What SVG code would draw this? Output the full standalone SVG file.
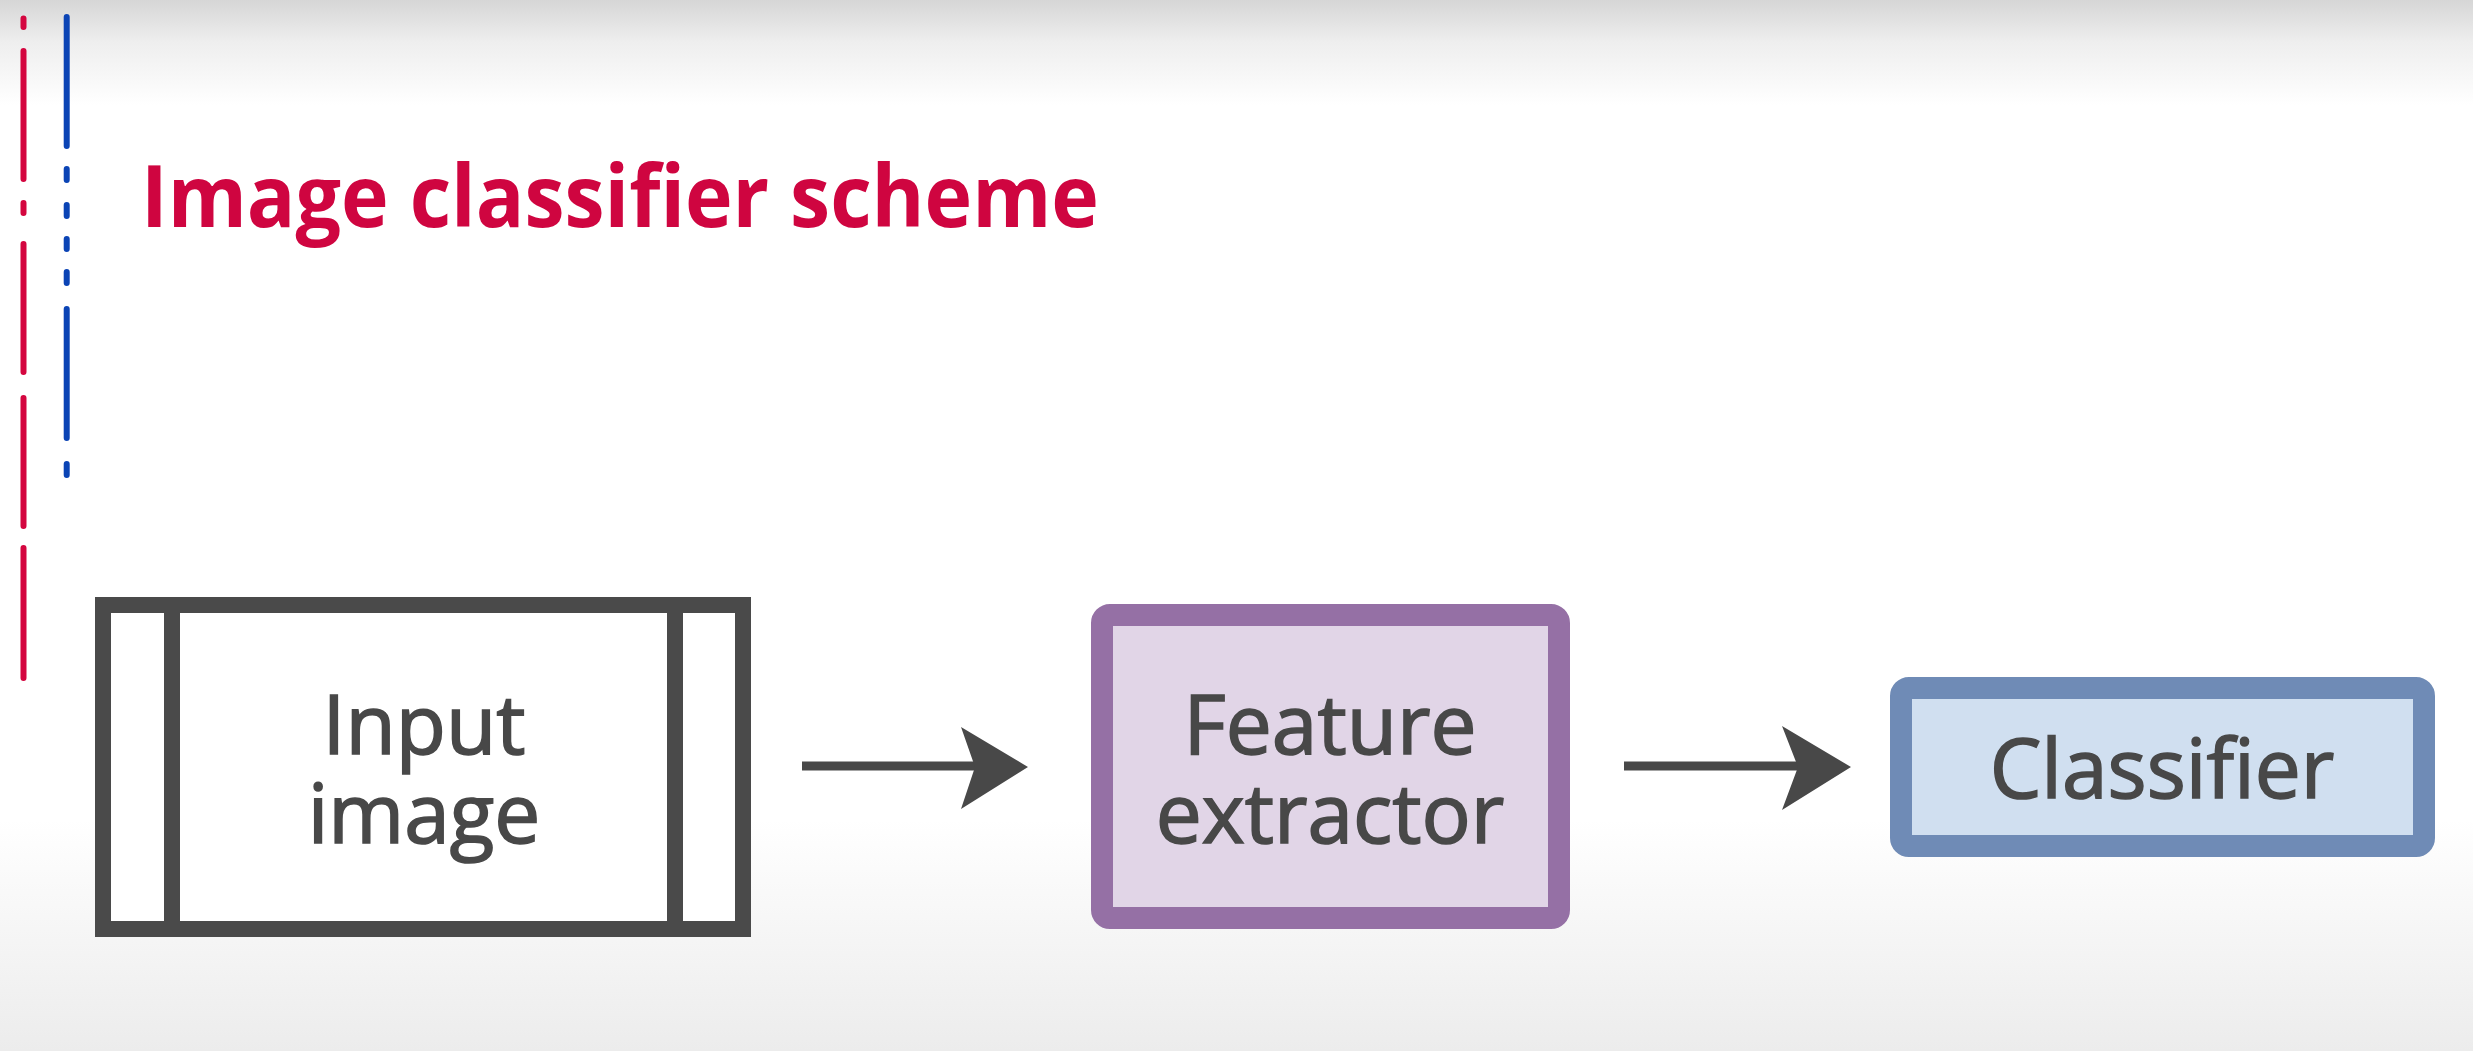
<svg xmlns="http://www.w3.org/2000/svg" width="2473" height="1051" viewBox="0 0 2473 1051">
<defs>
<linearGradient id="bg" x1="0" y1="0" x2="0" y2="1">
<stop offset="0" stop-color="#d6d6d6"/>
<stop offset="0.04" stop-color="#eeeeee"/>
<stop offset="0.1" stop-color="#ffffff"/>
<stop offset="0.78" stop-color="#ffffff"/>
<stop offset="1" stop-color="#ececec"/>
</linearGradient>
<style>
.lbl{font-family:"Open Sans","Liberation Sans",sans-serif;font-size:82px;fill:#484848;stroke:#484848;stroke-width:1.6;text-anchor:middle}
.title{font-family:"Open Sans","Liberation Sans",sans-serif;font-weight:bold;font-size:86px;fill:#cf0540}
.deco{fill:none;stroke-width:6;stroke-linecap:round}
.shaft{stroke:#484848;stroke-width:9;fill:none}
.head{fill:#484848}
</style>
</defs>
<rect x="0" y="0" width="2473" height="1051" fill="url(#bg)"/>
<g id="decoration">
<path class="deco" stroke="#d4063f" d="M23.5 18.6V27 M23.5 51V179 M23.5 203V213 M23.5 244V372 M23.5 398V526 M23.5 548V678"/>
<path class="deco" stroke="#0b44b5" d="M66.7 17V146 M66.7 169V180 M66.7 205V216 M66.7 239V249 M66.7 272V283 M66.7 309V438 M66.7 464V475"/>
</g>
<g id="title">
<text class="title" x="141" y="227" textLength="958" lengthAdjust="spacingAndGlyphs">Image classifier scheme</text>
</g>
<g id="input-image">
<rect x="103" y="605" width="640" height="324" fill="#ffffff" stroke="#4a4a4a" stroke-width="16"/>
<line x1="172" y1="605" x2="172" y2="929" stroke="#4a4a4a" stroke-width="16"/>
<line x1="675" y1="605" x2="675" y2="929" stroke="#4a4a4a" stroke-width="16"/>
<text class="lbl" x="424" y="754">Input</text>
<text class="lbl" x="424" y="843">image</text>
</g>
<g id="feature-extractor">
<rect x="1102" y="615" width="457" height="303" rx="8" fill="#e1d5e7" stroke="#9570a5" stroke-width="22"/>
<text class="lbl" x="1330" y="754">Feature</text>
<text class="lbl" x="1330" y="843">extractor</text>
</g>
<g id="classifier">
<rect x="1901" y="688" width="523" height="158" rx="8" fill="#d0dff0" stroke="#6f8bb6" stroke-width="22"/>
<text class="lbl" x="2162" y="798">Classifier</text>
</g>
<g id="connectors">
<line class="shaft" x1="802" y1="766" x2="975" y2="766"/>
<polygon class="head" points="961,727 1028,767 961,809 975,767"/>
<line class="shaft" x1="1624" y1="766" x2="1799" y2="766"/>
<polygon class="head" points="1782,726 1851,767 1782,810 1798,767"/>
</g>
</svg>
